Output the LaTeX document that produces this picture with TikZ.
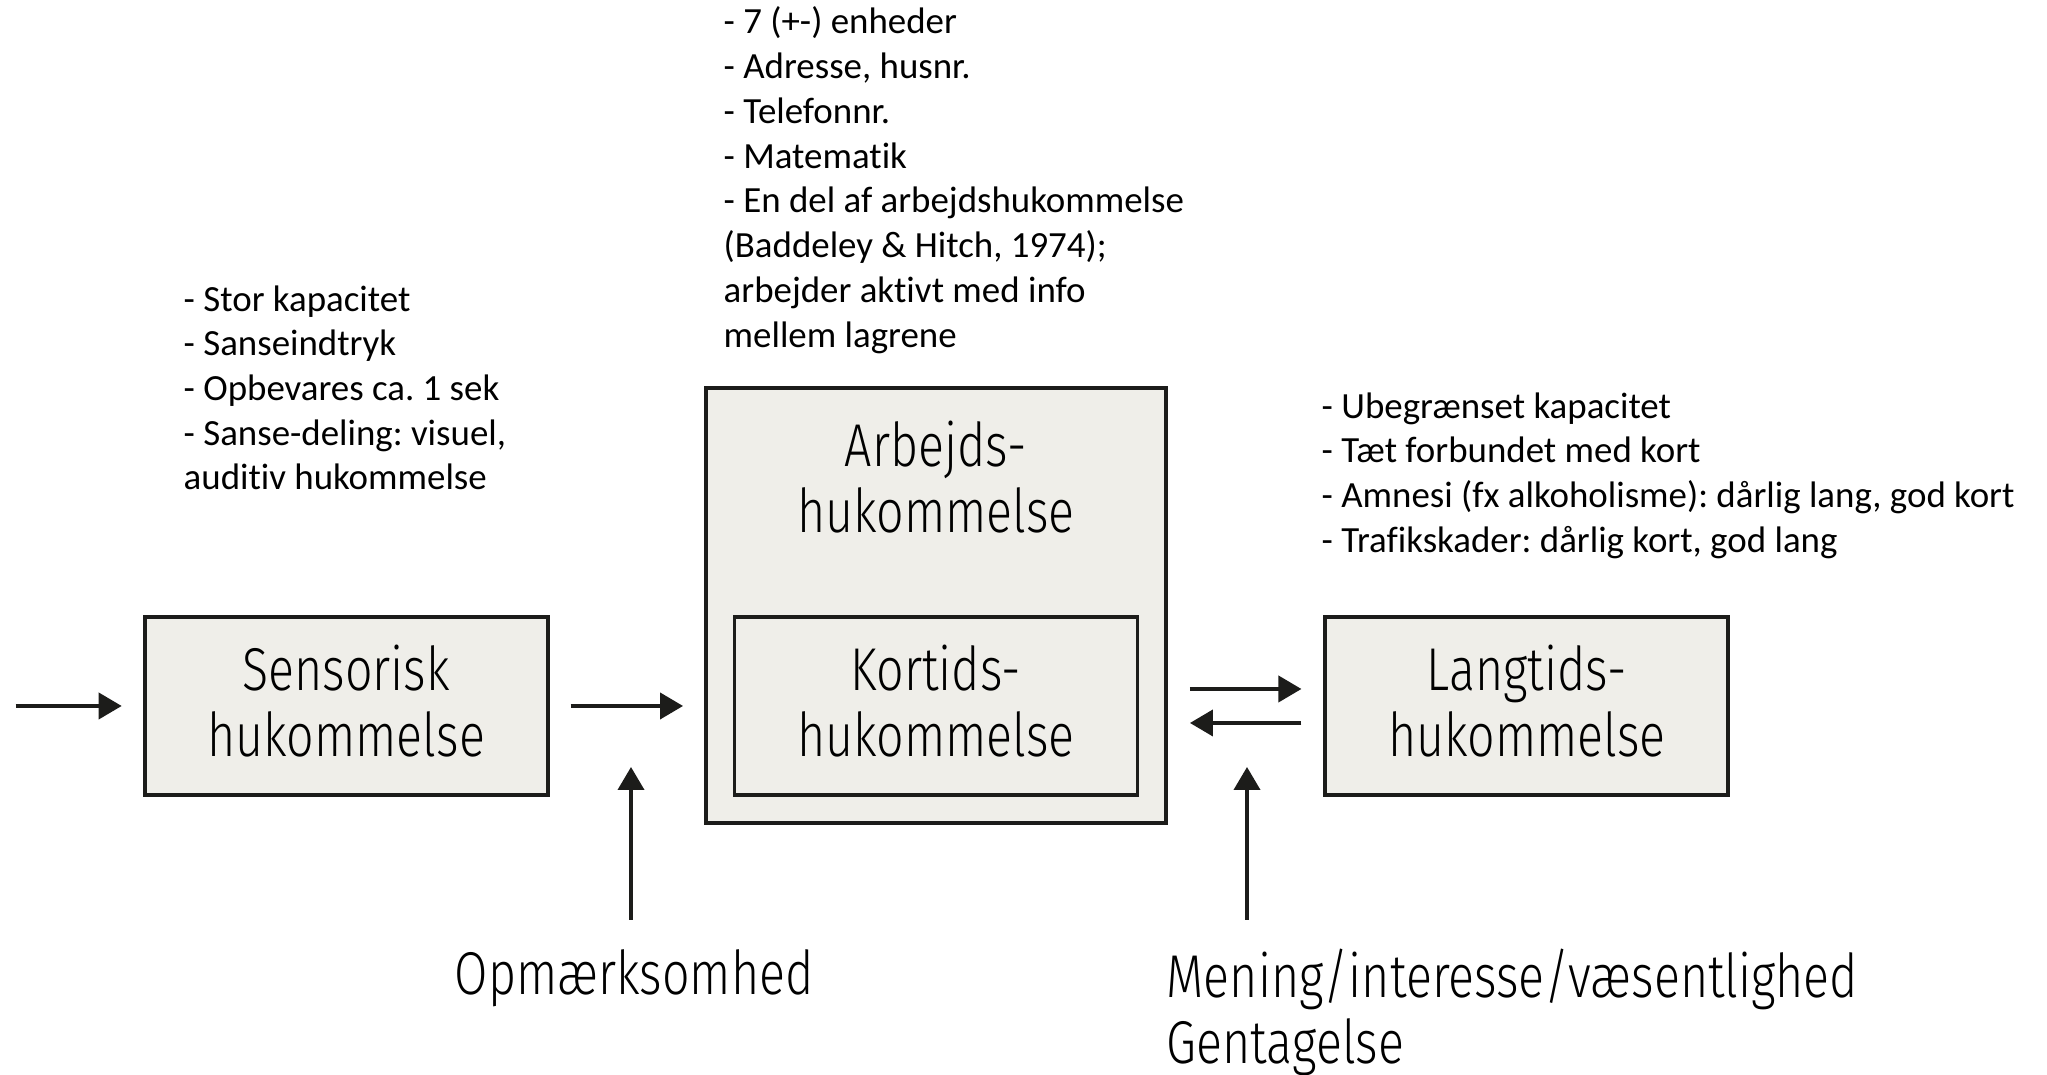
\documentclass[tikz,border=0pt]{standalone}
\usepackage{fontspec}
\setmainfont[Ligatures={TeX,NoCommon}]{Carlito}
\newfontfamily\boxfont[FakeStretch=0.8,UprightFont=* Light]{Fira Sans}
\usepackage{tikz}
\usetikzlibrary{arrows.meta,positioning}
\definecolor{boxfill}{HTML}{EFEEE9}
\definecolor{ink}{HTML}{1C1C1A}
\newcommand{\notefont}{\fontsize{10.5}{12.73}\selectfont}
\newcommand{\cuefont}{\boxfont\fontsize{17.2}{18.76}\selectfont}
\newcommand{\lowstrut}{\rule[-2.9pt]{0pt}{2.9pt}}
\frenchspacing

\begin{document}
\begin{tikzpicture}[
  memorybox/.style={draw=ink,fill=boxfill,line width=1.1pt,
    minimum width=4.03cm,minimum height=1.78cm,align=center,
    font=\cuefont,inner sep=0pt},
  notes/.style={anchor=north west,align=left,inner sep=0pt,font=\notefont},
  cue/.style={anchor=base west,align=left,inner sep=0pt,font=\cuefont},
  flow/.style={draw=ink,line width=1.1pt,-{Triangle[length=0.23cm,width=0.26cm]}}]
  \useasboundingbox (0,0) rectangle (20.47,10.75);

  % the three stores
  \node[memorybox,minimum width=4.6cm,minimum height=4.35cm,anchor=south] (arb) at (9.36,2.50) {};
  \node[font=\cuefont,align=center,inner sep=0pt] (arbtxt) at (9.36,5.89) {\strut Arbejds-\\hukommelse\strut};
  \node[memorybox] (kort) at (9.36,3.69) {\strut Kortids-\\hukommelse\lowstrut};
  \node[memorybox,left=1.83cm of kort] (sens) {\strut Sensorisk\\hukommelse\lowstrut};
  \node[memorybox,right=1.84cm of kort] (lang) {\strut Langtids-\\hukommelse\lowstrut};

  % notes
  \node[notes] (sensnote) at (1.83,7.96) {\strut- Stor kapacitet\\- Sanseindtryk\\- Opbevares ca. 1 sek\\- Sanse-deling: visuel,\\auditiv hukommelse};
  \node[notes] (kortnote) at (7.23,10.73) {\strut- 7 (+-) enheder\\- Adresse, husnr.\\- Telefonnr.\\- Matematik\\- En del af arbejdshukommelse\\(Baddeley \& Hitch, 1974);\\arbejder aktivt med info\\mellem lagrene};
  \node[notes] (langnote) at (13.21,6.89) {\strut- Ubegrænset kapacitet\\- Tæt forbundet med kort\\- Amnesi (fx alkoholisme): dårlig lang, god kort\\- Trafikskader: dårlig kort, god lang};

  % cues below
  \node[cue] (opm) at (4.54,0.80) {Opmærksomhed};
  \node[cue,anchor=north west] (mening) at (11.66,1.27) {\strut Mening/interesse/væsentlighed\\Gentagelse};

  % arrows
  \coordinate (src) at (0.157,3.69);
  \coordinate (gap) at (arb.east |- lang.west);
  \coordinate (opmfoot) at (6.31,1.55);
  \coordinate (opmtip) at (6.31,3.08);
  \coordinate (menfoot) at (12.47,1.55);
  \coordinate (mentip) at (12.47,3.08);
  \draw[flow,shorten >=0.21cm] (src) -- (sens.west);
  \draw[flow,shorten <=0.21cm,shorten >=0.21cm] (sens.east) -- (sens.east -| arb.west);
  \draw[flow,shorten <=0.22cm,shorten >=0.22cm] ([yshift=0.17cm]gap) -- ([yshift=0.17cm]lang.west);
  \draw[flow,shorten <=0.22cm,shorten >=0.22cm] ([yshift=-0.17cm]lang.west) -- ([yshift=-0.17cm]gap);
  \draw[flow] (opmfoot) -- (opmtip);
  \draw[flow] (menfoot) -- (mentip);
\end{tikzpicture}
\end{document}
